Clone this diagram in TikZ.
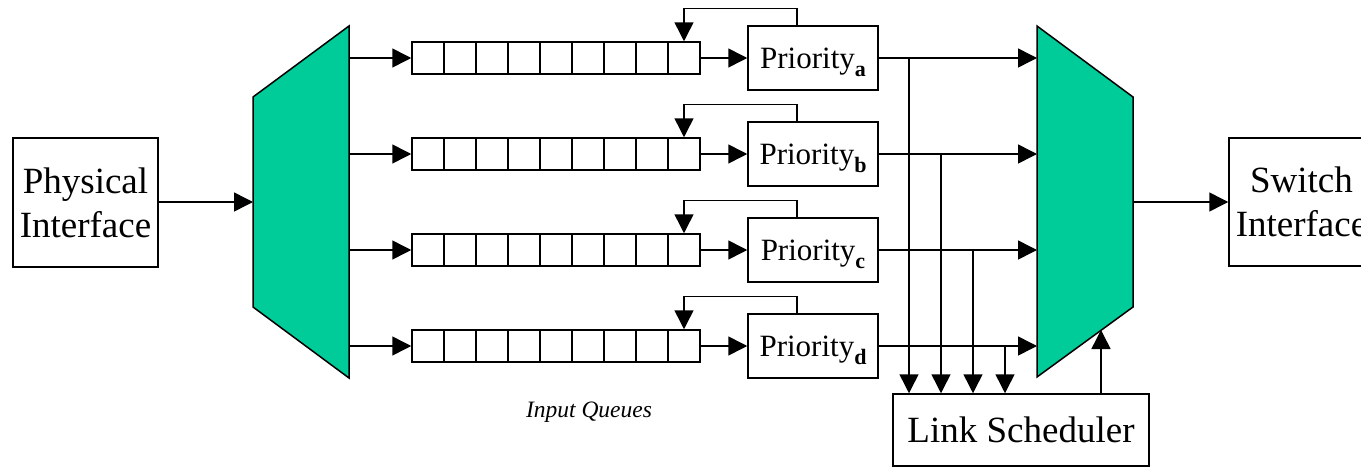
\documentclass[tikz,border=0pt]{standalone}
\usepackage{fontspec}
\setmainfont{Liberation Serif}
\usetikzlibrary{arrows.meta,calc}
\definecolor{muxgreen}{RGB}{0,204,153}
\newcommand{\prio}[1]{Priority\raisebox{-8.5pt}[0pt][0pt]{\fontsize{22}{22}\selectfont\bfseries #1}}
\begin{document}
\begin{tikzpicture}[x=1pt,y=-1pt,
  line width=1.5pt,
  box/.style={draw, fill=white, align=center, inner sep=0pt},
  bigtext/.style={font=\fontsize{37}{44}\selectfont},
  prbox/.style={box, minimum width=130, minimum height=64, text height=24pt, text depth=4pt,
    font=\fontsize{31}{36}\selectfont},
  cell/.style={draw, minimum width=32, minimum height=32, inner sep=0pt},
  arr/.style={-{Triangle[length=19pt,width=19pt]}},
  mux/.style={draw, fill=muxgreen, line join=miter}]
\clip (0,0) rectangle (1361,471);
\fill[white] (0,0) rectangle (1361,471);

% input and output multiplexers
\draw[mux] (253,97) -- (349,26) -- (349,378) -- (253,307) -- cycle;
\draw[mux] (1037,26) -- (1133,97) -- (1133,307) -- (1037,377) -- cycle;
\coordinate (demuxin) at (253,202);
\coordinate (muxout) at (1133,202);
\coordinate (muxsel) at (1101,330);

% interfaces
\node[box, bigtext, minimum width=145, minimum height=129] (phys) at (85.5,202.5) {Physical\\Interface};
\node[box, bigtext, minimum width=145, minimum height=128] (swif) at (1301.5,202) {Switch\\Interface};
\draw[arr] (phys.east |- demuxin) -- (demuxin);
\draw[arr] (muxout) -- (swif.west |- muxout);

% link scheduler
\node[box, bigtext, minimum width=256, minimum height=72] (sched) at (1021,430) {Link Scheduler};
\draw[arr] (sched.north -| muxsel) -- (muxsel);

% queues with priority stages
\foreach \r/\y/\tx in {a/58/909, b/154/941, c/250/973, d/346/1005} {
  \coordinate (out\r) at (349,\y);
  \coordinate (in\r) at (1037,\y);
  \coordinate (tap\r) at (\tx,\y);
  \foreach \i in {1,...,9} {
    \node[cell] (q\r\i) at ({412+32*(\i-1)+16},\y) {};
  }
  \node[prbox] (p\r) at (813,\y) {\prio{\r}};
  \draw[arr] (out\r) -- (q\r1.west);
  \draw[arr] (q\r9.east) -- (p\r.west |- q\r9.east);
  \draw[arr] ([xshift=-16pt]p\r.north) -- ++(0,-17) -| (q\r9.north);
  \draw[arr] (p\r.east |- in\r) -- (in\r);
  \draw[arr] (tap\r) -- (tap\r |- sched.north);
}

\node[font=\fontsize{23.5}{28}\selectfont\itshape] (iq) at (589,412) {Input Queues};
\end{tikzpicture}
\end{document}
